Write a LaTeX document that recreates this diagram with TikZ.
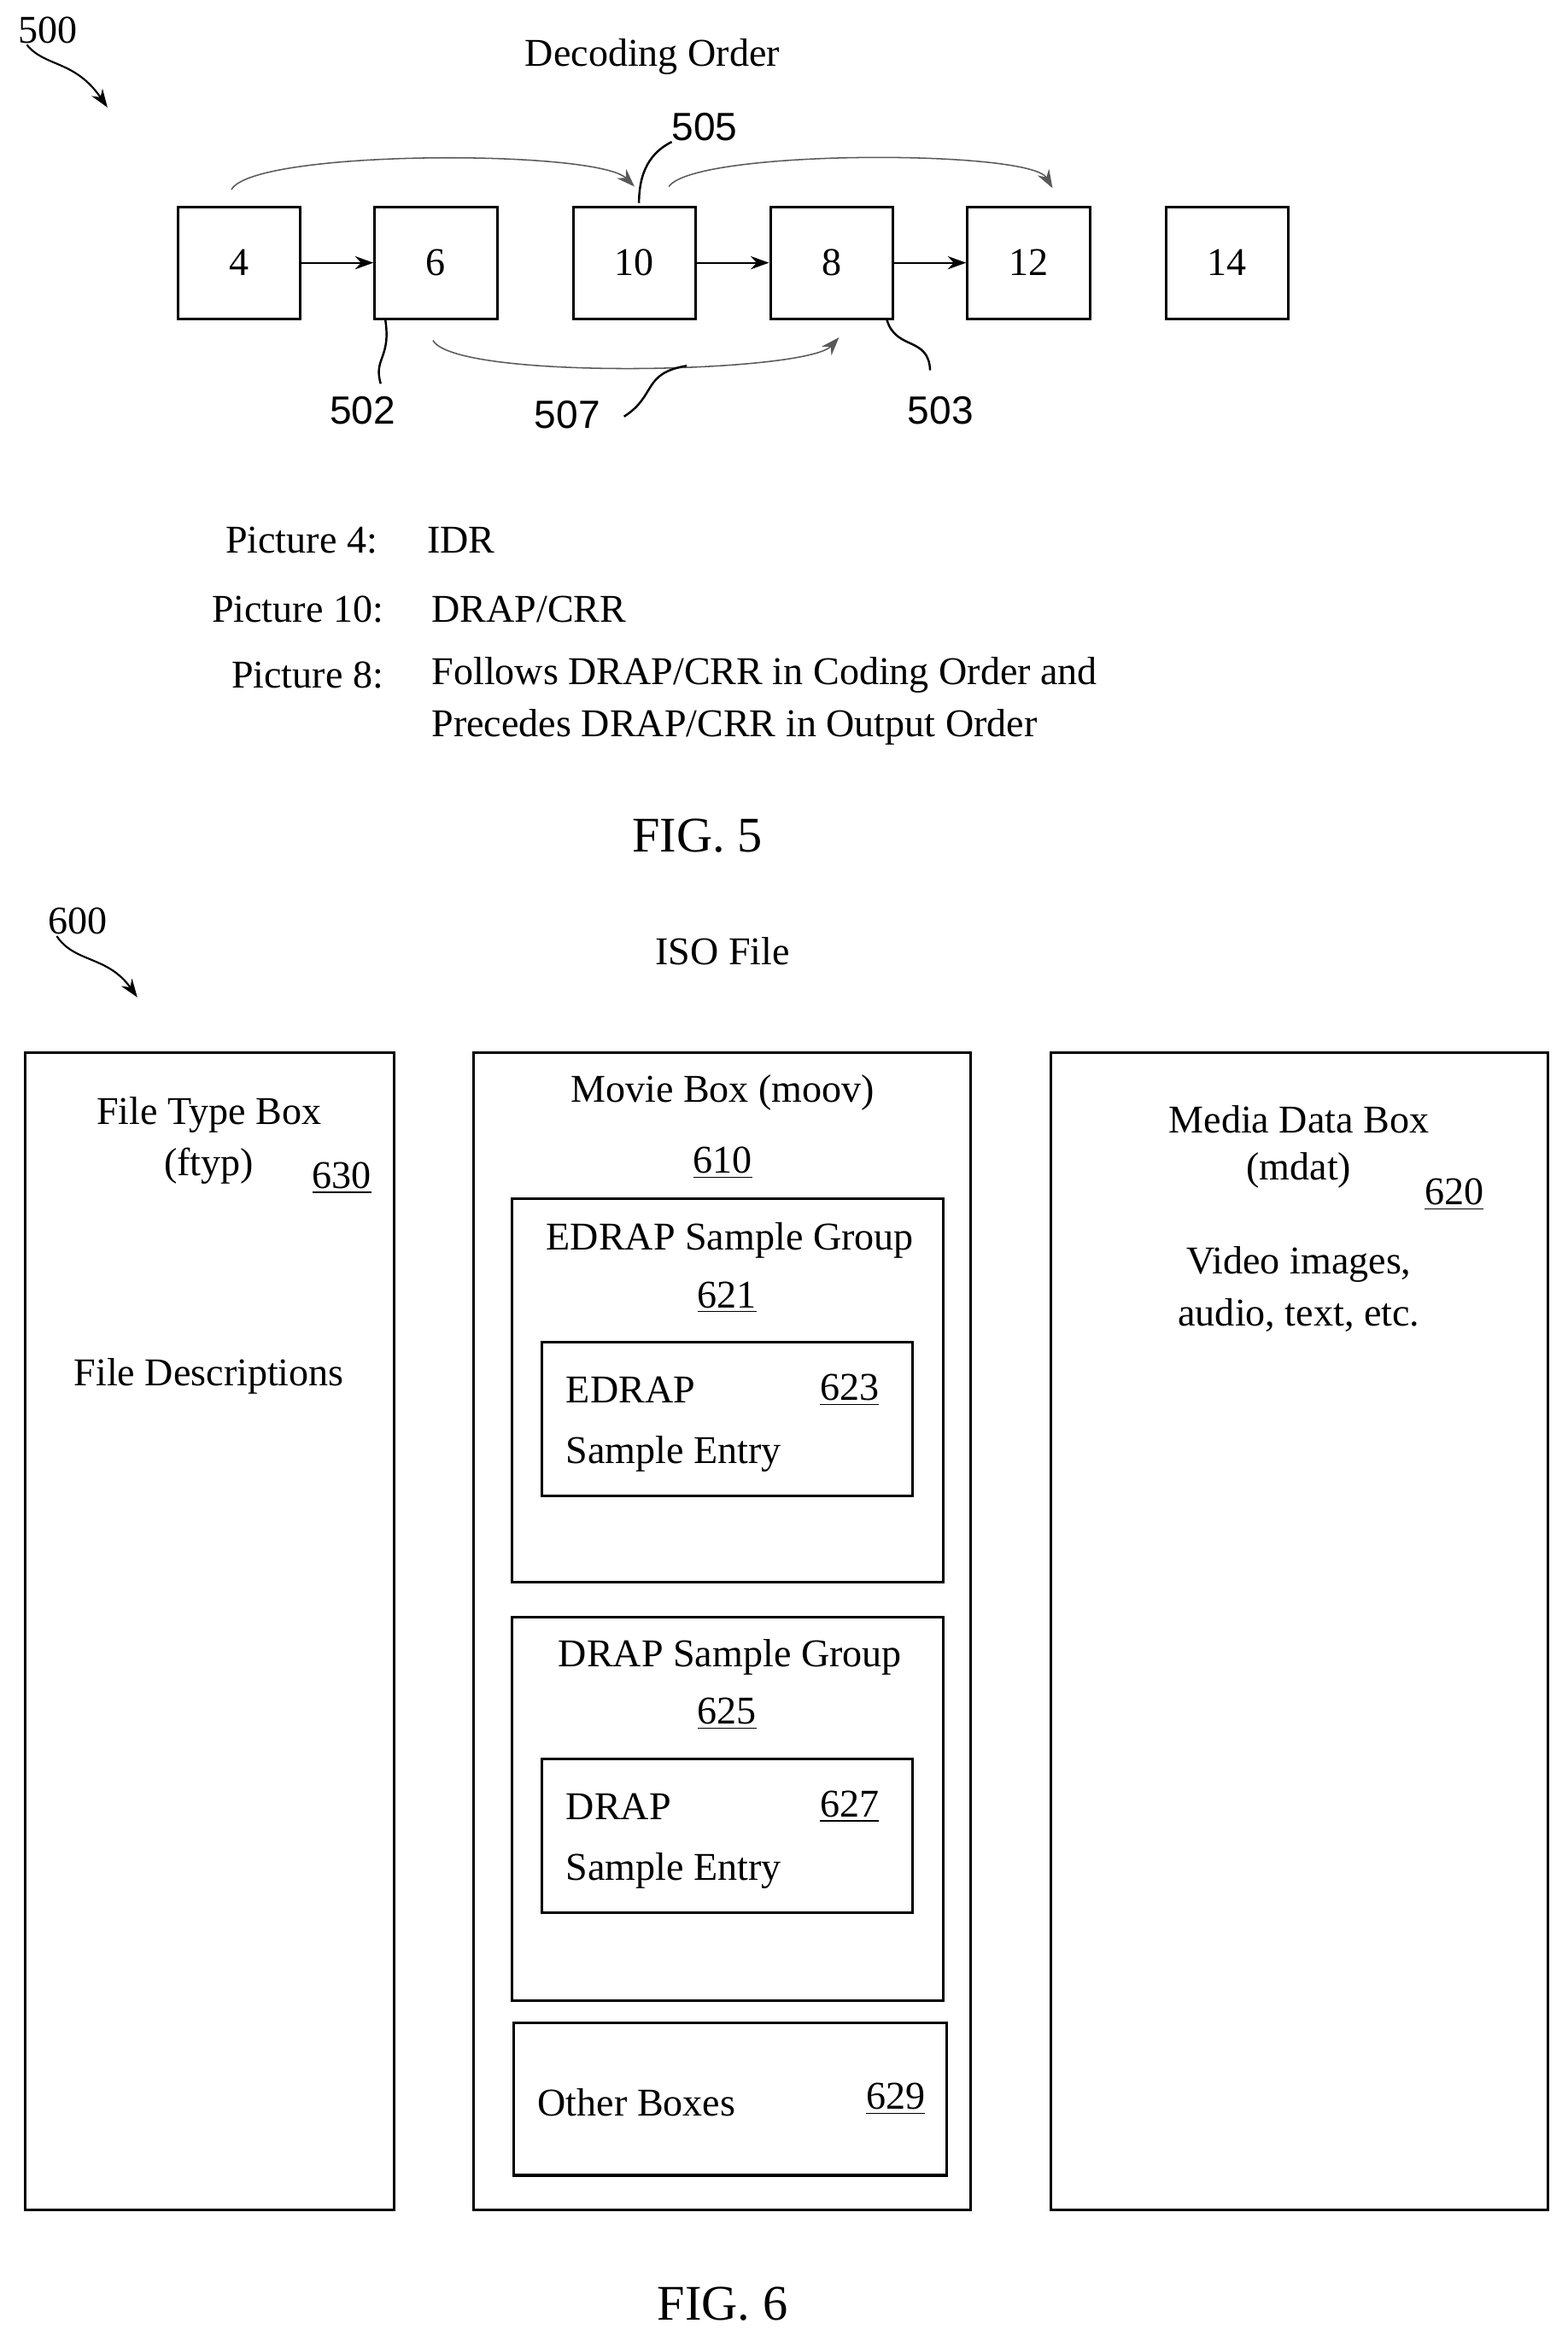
\documentclass[tikz,border=0pt]{standalone}
\usepackage{fontspec}
\setmainfont{Liberation Serif}
\newfontfamily\lab{Liberation Sans}
\usetikzlibrary{arrows.meta}
\begin{document}
\begin{tikzpicture}[x=0.02cm,y=-0.02cm,
  every node/.style={font=\fontsize{15}{18}\selectfont},
  pic/.style={draw,line width=1pt,minimum width=1.64cm,minimum height=1.5cm,inner sep=0pt},
  bx/.style={draw,line width=1pt},
  num/.style={font=\lab\fontsize{15}{18}\selectfont},
  arr/.style={-{Stealth[length=7pt,width=5pt]},line width=0.7pt},
  arc/.style={-{Stealth[length=7pt,width=5pt]},line width=0.5pt,gray!70!black},
  ld/.style={line width=0.8pt}]
\useasboundingbox (0,0) rectangle (1050,1568);
% FIG 5
\node (l500) at (32,20) {500};
\coordinate (a500) at (72,72);
\draw[arr] (18,30) .. controls (30,45) and (50,40) .. (a500);
\node at (437,38) {Decoding Order};
\node[pic] (p4) at (160,176) {4};
\node[pic] (p6) at (292,176) {6};
\node[pic] (p10) at (425,176) {10};
\node[pic] (p8) at (557,176) {8};
\node[pic] (p12) at (689,176) {12};
\node[pic] (p14) at (822,176) {14};
\draw[arr] (p4) -- (p6);
\draw[arr] (p10) -- (p8);
\draw[arr] (p8) -- (p12);
\coordinate (t4) at (155,127); \coordinate (t10) at (425,125);
\coordinate (t10b) at (448,125); \coordinate (t12) at (705,126);
\coordinate (b6) at (290,228); \coordinate (b8) at (562,226);
\draw[arc] (t4) .. controls (170,100) and (400,100) .. (t10);
\draw[arc] (t10b) .. controls (465,100) and (690,100) .. (t12);
\draw[arc] (b6) .. controls (305,255) and (540,250) .. (b8);
\node[num] (l505) at (472,85) {505};
\draw[ld] (428,136) .. controls (428,110) and (440,100) .. (450,95);
\node[num] (l502) at (243,275) {502};
\draw[ld] (p6.south west) ++(8,0) .. controls (262,240) and (250,240) .. (255,257);
\node[num] (l503) at (630,275) {503};
\draw[ld] (594,214) .. controls (600,235) and (622,225) .. (623,248);
\node[num] (l507) at (380,278) {507};
\draw[ld] (418,279) .. controls (440,265) and (430,250) .. (460,245);
\node[anchor=east] at (259,362) {Picture 4:};
\node[anchor=west] at (280,362) {IDR};
\node[anchor=east] at (263,408) {Picture 10:};
\node[anchor=west] at (283,408) {DRAP/CRR};
\node[anchor=east] at (263,452) {Picture 8:};
\node[anchor=west] at (283,452) {Follows DRAP/CRR in Coding Order and};
\node[anchor=west] at (283,487) {Precedes DRAP/CRR in Output Order};
\node[font=\fontsize{19}{22}\selectfont] at (467,560) {FIG. 5};
% FIG 6
\node (l600) at (52,617) {600};
\coordinate (a600) at (92,668);
\draw[arr] (38,627) .. controls (50,645) and (72,640) .. (a600);
\node at (484,637) {ISO File};
\node[bx,minimum width=4.94cm,minimum height=15.5cm] (ftyp) at (140.5,1092.5) {};
\node[bx,minimum width=6.66cm,minimum height=15.5cm] (moov) at (483.5,1092.5) {};
\node[bx,minimum width=6.66cm,minimum height=15.5cm] (mdat) at (870.5,1092.5) {};
\node at (140,747) {File Type Box};
\node at (140,781) {(ftyp)};
\node at (229,789) {\underline{630}};
\node at (140,922) {File Descriptions};
\node at (484,732) {Movie Box (moov)};
\node at (484,779) {\underline{610}};
\node at (870,750) {Media Data Box};
\node at (870,784) {(mdat)};
\node at (974,800) {\underline{620}};
\node at (870,847) {Video images,};
\node at (870,881) {audio, text, etc.};
\node[bx,minimum width=5.78cm,minimum height=5.14cm] (eg) at (487.5,931.5) {};
\node at (489,831) {EDRAP Sample Group};
\node at (487,869) {\underline{621}};
\node[bx,minimum width=4.96cm,minimum height=2.06cm] (ee) at (487,950.5) {};
\node[anchor=west] at (373,931) {EDRAP};
\node[anchor=west] at (373,974) {Sample Entry};
\node at (569,931) {\underline{623}};
\node[bx,minimum width=5.78cm,minimum height=5.14cm] (dg) at (487.5,1211.5) {};
\node at (489,1110) {DRAP Sample Group};
\node at (487,1148) {\underline{625}};
\node[bx,minimum width=4.96cm,minimum height=2.06cm] (de) at (487,1229.5) {};
\node[anchor=west] at (373,1210) {DRAP};
\node[anchor=west] at (373,1253) {Sample Entry};
\node at (569,1210) {\underline{627}};
\node[bx,minimum width=5.8cm,minimum height=2.04cm] (ob) at (489,1406) {};
\node[anchor=west] at (354,1408) {Other Boxes};
\node at (600,1406) {\underline{629}};
\node[font=\fontsize{19}{22}\selectfont] at (484,1543) {FIG. 6};
\end{tikzpicture}
\end{document}
